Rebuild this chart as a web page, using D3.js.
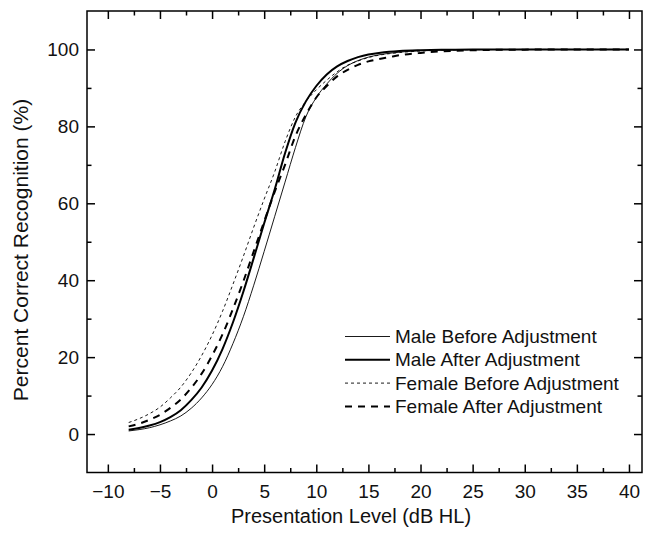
<!DOCTYPE html>
<html>
<head>
<meta charset="utf-8">
<script src="https://cdn.jsdelivr.net/npm/d3@7"></script>
<style>
  html, body { margin: 0; padding: 0; background: #fff; }
  svg { display: block; }
  text { font-family: "Liberation Sans", Arial, sans-serif; fill: #111; }
</style>
</head>
<body>
<div id="chart"></div>
<script>
// ---- Data ----
const levels = [-8,-7,-6,-5,-4,-3,-2,-1,0,1,2,3,4,5,6,7,8,9,10,11,12,13,14,15,16,17,18,20,22,25,30,35,40];

const maleBefore   = [0.8,1.15,1.65,2.4,3.4,4.7,6.7,9.4,12.9,17.5,23.5,30.5,38.7,47.5,56.5,65.5,74.5,82.5,87.5,91,93.8,95.8,97.1,98.0,98.6,99.0,99.3,99.7,99.85,99.95,100,100,100];
const maleAfter    = [1.1,1.55,2.2,3.1,4.4,6.2,8.8,12.1,16.5,22.1,29.0,37.0,45.8,54.8,63.5,73,81,86.5,90.5,93.5,95.6,97.0,98.0,98.7,99.1,99.4,99.6,99.8,99.9,100,100,100,100];
const femaleBefore = [3.0,4.0,5.3,7.0,9.4,12.2,15.9,20.4,25.7,31.9,38.9,46.2,53.8,61.1,68.1,76,82.5,86.5,89.5,92,94.2,95.9,97.0,97.9,98.5,98.9,99.2,99.6,99.8,99.95,100,100,100];
const femaleAfter  = [2.0,2.7,3.7,5.0,6.8,9.0,12.0,15.7,20.4,25.9,32.5,39.7,47.5,55.3,62.9,70.0,77.5,83,87.5,90.5,93,94.7,96.0,96.9,97.5,98.0,98.5,99.1,99.5,99.8,99.95,100,100];

const seriesNames = ["Male Before Adjustment","Male After Adjustment","Female Before Adjustment","Female After Adjustment"];
const seriesValues = [maleBefore, maleAfter, femaleBefore, femaleAfter];

const xMajorTicks = [-10,-5,0,5,10,15,20,25,30,35,40];
const xMinorTicks = [-7.5,-2.5,2.5,7.5,12.5,17.5,22.5,27.5,32.5,37.5];
const yMajorTicks = [0,20,40,60,80,100];
const yMinorTicks = [10,30,50,70,90];

const xTitle = "Presentation Level (dB HL)";
const yTitle = "Percent Correct Recognition (%)";

// ---- Styles ----
const styles = [
  {w: 0.9, dash: null},
  {w: 2.0, dash: null},
  {w: 0.9, dash: "3,3"},
  {w: 2.0, dash: "7,6"}
];

const W = 647, H = 534;
const L = 87, R = 642, T = 11, B = 472.5;

const svg = d3.select("#chart").append("svg").attr("width", W).attr("height", H);

const x = d3.scaleLinear().domain([-12, 41.25]).range([L, R]);
const y = d3.scaleLinear().domain([-10, 110]).range([B, T]);

const line = d3.line()
  .x((d, i) => x(levels[i]))
  .y(d => y(d))
  .curve(d3.curveMonotoneX);

const plot = svg.append("g");
seriesValues.forEach((vals, k) => {
  plot.append("path")
    .attr("d", line(vals))
    .attr("fill", "none")
    .attr("stroke", "#000")
    .attr("stroke-width", styles[k].w)
    .attr("stroke-dasharray", styles[k].dash);
});

// ---- Axes (ticks inward on all four sides) ----
const major = 8, minor = 4.5;
function styleAxis(g) {
  g.select(".domain").remove();
  g.selectAll(".tick line").attr("stroke", "#000").attr("stroke-width", 1.5);
}

// bottom
const xb = svg.append("g").attr("transform", `translate(0,${B})`)
  .call(d3.axisBottom(x).tickValues(xMajorTicks).tickSizeInner(-major).tickSizeOuter(0)
        .tickPadding(12).tickFormat(d => d < 0 ? "\u2212" + Math.abs(d) : d));
styleAxis(xb);
xb.selectAll("text").attr("font-size", 19).attr("fill", "#111");
svg.append("g").attr("transform", `translate(0,${B})`)
  .call(d3.axisBottom(x).tickValues(xMinorTicks).tickSizeInner(-minor).tickSizeOuter(0).tickFormat(""))
  .call(styleAxis);

// top
svg.append("g").attr("transform", `translate(0,${T})`)
  .call(d3.axisTop(x).tickValues(xMajorTicks).tickSizeInner(-major).tickSizeOuter(0).tickFormat(""))
  .call(styleAxis);
svg.append("g").attr("transform", `translate(0,${T})`)
  .call(d3.axisTop(x).tickValues(xMinorTicks).tickSizeInner(-minor).tickSizeOuter(0).tickFormat(""))
  .call(styleAxis);

// left
const yl = svg.append("g").attr("transform", `translate(${L},0)`)
  .call(d3.axisLeft(y).tickValues(yMajorTicks).tickSizeInner(-major).tickSizeOuter(0).tickPadding(8));
styleAxis(yl);
yl.selectAll("text").attr("font-size", 19).attr("fill", "#111");
svg.append("g").attr("transform", `translate(${L},0)`)
  .call(d3.axisLeft(y).tickValues(yMinorTicks).tickSizeInner(-minor).tickSizeOuter(0).tickFormat(""))
  .call(styleAxis);

// right
svg.append("g").attr("transform", `translate(${R},0)`)
  .call(d3.axisRight(y).tickValues(yMajorTicks).tickSizeInner(-major).tickSizeOuter(0).tickFormat(""))
  .call(styleAxis);
svg.append("g").attr("transform", `translate(${R},0)`)
  .call(d3.axisRight(y).tickValues(yMinorTicks).tickSizeInner(-minor).tickSizeOuter(0).tickFormat(""))
  .call(styleAxis);

// frame
svg.append("rect").attr("x", L).attr("y", T).attr("width", R - L).attr("height", B - T)
  .attr("fill", "none").attr("stroke", "#000").attr("stroke-width", 1.5);

// titles
svg.append("text").attr("x", 351).attr("y", 523).attr("text-anchor", "middle")
  .attr("font-size", 20).text(xTitle);
svg.append("text").attr("transform", `translate(28,250) rotate(-90)`)
  .attr("text-anchor", "middle").attr("font-size", 21).text(yTitle);

// legend
const lg = svg.append("g");
seriesNames.forEach((name, k) => {
  const yy = 336.5 + k * 23.3;
  lg.append("line").attr("x1", 345).attr("x2", 390).attr("y1", yy).attr("y2", yy)
    .attr("stroke", "#000").attr("stroke-width", styles[k].w)
    .attr("stroke-dasharray", styles[k].dash);
  lg.append("text").attr("x", 395).attr("y", yy).attr("dy", "0.35em")
    .attr("font-size", 19).text(name);
});
</script>
</body>
</html>
